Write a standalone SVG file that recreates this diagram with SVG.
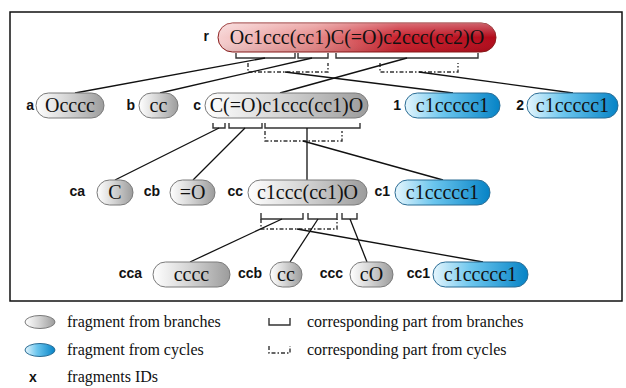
<svg xmlns="http://www.w3.org/2000/svg" width="626" height="388" viewBox="0 0 626 388">
<defs>
<linearGradient id="gGrey" x1="0" y1="0" x2="1" y2="0">
<stop offset="0" stop-color="#ffffff"/>
<stop offset="0.45" stop-color="#d6d6d6"/>
<stop offset="1" stop-color="#9c9c9c"/>
</linearGradient>
<linearGradient id="gBlue" x1="0" y1="0" x2="1" y2="0">
<stop offset="0" stop-color="#e6f6fd"/>
<stop offset="0.4" stop-color="#6cc6ee"/>
<stop offset="1" stop-color="#0683c6"/>
</linearGradient>
<linearGradient id="gRed" x1="0" y1="0" x2="1" y2="0">
<stop offset="0" stop-color="#f6d0d0"/>
<stop offset="0.35" stop-color="#e58888"/>
<stop offset="0.65" stop-color="#c8202c"/>
<stop offset="1" stop-color="#b20a1a"/>
</linearGradient>
<linearGradient id="gShine" x1="0" y1="0" x2="0" y2="1">
<stop offset="0" stop-color="#ffffff" stop-opacity="0.35"/>
<stop offset="0.5" stop-color="#ffffff" stop-opacity="0"/>
<stop offset="1" stop-color="#000000" stop-opacity="0.08"/>
</linearGradient>
</defs>
<style>
.grey{fill:url(#gGrey);stroke:#7a7a7a;stroke-width:1}
.blue{fill:url(#gBlue);stroke:#2a6c94;stroke-width:1}
.red{fill:url(#gRed);stroke:#8a1a1a;stroke-width:1}
.t{font-family:"Liberation Serif","Times New Roman",serif;font-size:20px;fill:#111;text-anchor:middle}
.lbl{font-family:"Liberation Sans",Arial,sans-serif;font-weight:900;font-size:14px;fill:#111;text-anchor:end}
.ln{stroke:#111;stroke-width:1.3;fill:none}
.br{stroke:#333;stroke-width:1.4;fill:none}
.dbr{stroke:#333;stroke-width:1.4;fill:none;stroke-dasharray:4 2 1.5 2}
.lg{font-family:"Liberation Serif","Times New Roman",serif;font-size:16px;fill:#111}
</style>
<rect x="10" y="12" width="612" height="289" fill="#fff" stroke="#111" stroke-width="1.5"/>

<g id="connectors">
<path class="br" d="M236,53V58H295V53"/>
<path class="br" d="M298,53V58H328V53"/>
<path class="br" d="M336,53V58H478V53"/>
<path class="dbr" d="M248,63V72H328V63"/>
<path class="dbr" d="M380,63V72H458V63"/>
<line class="ln" x1="265" y1="58" x2="75" y2="93"/>
<line class="ln" x1="312" y1="58" x2="160" y2="93"/>
<line class="ln" x1="407" y1="58" x2="280" y2="93"/>
<line class="ln" x1="285" y1="72" x2="453" y2="93"/>
<line class="ln" x1="419" y1="72" x2="573" y2="93"/>
<path class="br" d="M213,123V128H225V123"/>
<path class="br" d="M229,123V128H262V123"/>
<path class="br" d="M265,123V128H360V123"/>
<path class="dbr" d="M265,131V141H342V131"/>
<line class="ln" x1="219" y1="128" x2="115" y2="180"/>
<line class="ln" x1="245" y1="128" x2="193" y2="180"/>
<line class="ln" x1="307" y1="128" x2="307" y2="180"/>
<line class="ln" x1="303" y1="141" x2="443" y2="180"/>
<path class="br" d="M261,213V219H303V213"/>
<path class="br" d="M308,213V219H337V213"/>
<path class="br" d="M342,213V219H357V213"/>
<path class="dbr" d="M261,219V229H337V219"/>
<line class="ln" x1="282" y1="219" x2="190" y2="262"/>
<line class="ln" x1="318" y1="219" x2="290" y2="262"/>
<line class="ln" x1="350" y1="219" x2="367" y2="262"/>
<line class="ln" x1="297" y1="229" x2="483" y2="262"/>
</g>

<g id="node-r">
<rect class="red" x="218" y="23" width="278" height="29" rx="14.5"/>
<rect x="218" y="23" width="278" height="29" rx="14.5" fill="url(#gShine)"/>
<text class="t" x="357" y="44">Oc1ccc(cc1)C(=O)c2ccc(cc2)O</text>
<text class="lbl" x="209" y="41">r</text>
</g>

<g id="node-a">
<rect class="grey" x="36" y="93" width="68" height="25" rx="12.5"/>
<text class="t" x="70" y="112">Occcc</text>
<text class="lbl" x="34" y="110">a</text>
</g>
<g id="node-b">
<rect class="grey" x="139" y="93" width="39" height="25" rx="12.5"/>
<text class="t" x="158.5" y="112">cc</text>
<text class="lbl" x="135" y="110">b</text>
</g>
<g id="node-c">
<rect class="grey" x="205" y="93" width="163" height="25" rx="12.5"/>
<text class="t" x="286.5" y="112">C(=O)c1ccc(cc1)O</text>
<text class="lbl" x="201" y="110">c</text>
</g>
<g id="node-1">
<rect class="blue" x="405" y="93" width="95" height="25" rx="12.5"/>
<text class="t" x="452.5" y="112">c1ccccc1</text>
<text class="lbl" x="401" y="110">1</text>
</g>
<g id="node-2">
<rect class="blue" x="527" y="93" width="91" height="25" rx="12.5"/>
<text class="t" x="572.5" y="112">c1ccccc1</text>
<text class="lbl" x="524" y="110">2</text>
</g>

<g id="node-ca">
<rect class="grey" x="97" y="180" width="36" height="25" rx="12.5"/>
<text class="t" x="115" y="199">C</text>
<text class="lbl" x="85" y="196">ca</text>
</g>
<g id="node-cb">
<rect class="grey" x="170" y="180" width="45" height="25" rx="12.5"/>
<text class="t" x="192.5" y="199">=O</text>
<text class="lbl" x="160" y="196">cb</text>
</g>
<g id="node-cc">
<rect class="grey" x="248" y="180" width="119" height="25" rx="12.5"/>
<text class="t" x="307.5" y="199">c1ccc(cc1)O</text>
<text class="lbl" x="243" y="196">cc</text>
</g>
<g id="node-c1">
<rect class="blue" x="395" y="180" width="95" height="25" rx="12.5"/>
<text class="t" x="442.5" y="199">c1ccccc1</text>
<text class="lbl" x="390" y="196">c1</text>
</g>

<g id="node-cca">
<rect class="grey" x="153" y="262" width="77" height="25" rx="12.5"/>
<text class="t" x="191.5" y="281">cccc</text>
<text class="lbl" x="142" y="278">cca</text>
</g>
<g id="node-ccb">
<rect class="grey" x="270" y="262" width="32" height="25" rx="12.5"/>
<text class="t" x="286" y="281">cc</text>
<text class="lbl" x="262" y="278">ccb</text>
</g>
<g id="node-ccc">
<rect class="grey" x="350" y="262" width="43" height="25" rx="12.5"/>
<text class="t" x="371.5" y="281">cO</text>
<text class="lbl" x="343" y="278">ccc</text>
</g>
<g id="node-cc1">
<rect class="blue" x="433" y="262" width="95" height="25" rx="12.5"/>
<text class="t" x="480.5" y="281">c1ccccc1</text>
<text class="lbl" x="430" y="278">cc1</text>
</g>

<g id="legend">
<ellipse class="grey" cx="40" cy="322" rx="15" ry="6.5"/>
<text class="lg" x="67" y="327">fragment from branches</text>
<ellipse class="blue" cx="40" cy="350" rx="15" ry="6.5"/>
<text class="lg" x="67" y="355">fragment from cycles</text>
<text class="lbl" x="33" y="382" style="text-anchor:middle">x</text>
<text class="lg" x="67" y="382">fragments IDs</text>
<path class="br" d="M269,318V325H290V318"/>
<text class="lg" x="307" y="327">corresponding part from branches</text>
<path class="dbr" d="M269,346V353H290V346"/>
<text class="lg" x="307" y="355">corresponding part from cycles</text>
</g>
</svg>
